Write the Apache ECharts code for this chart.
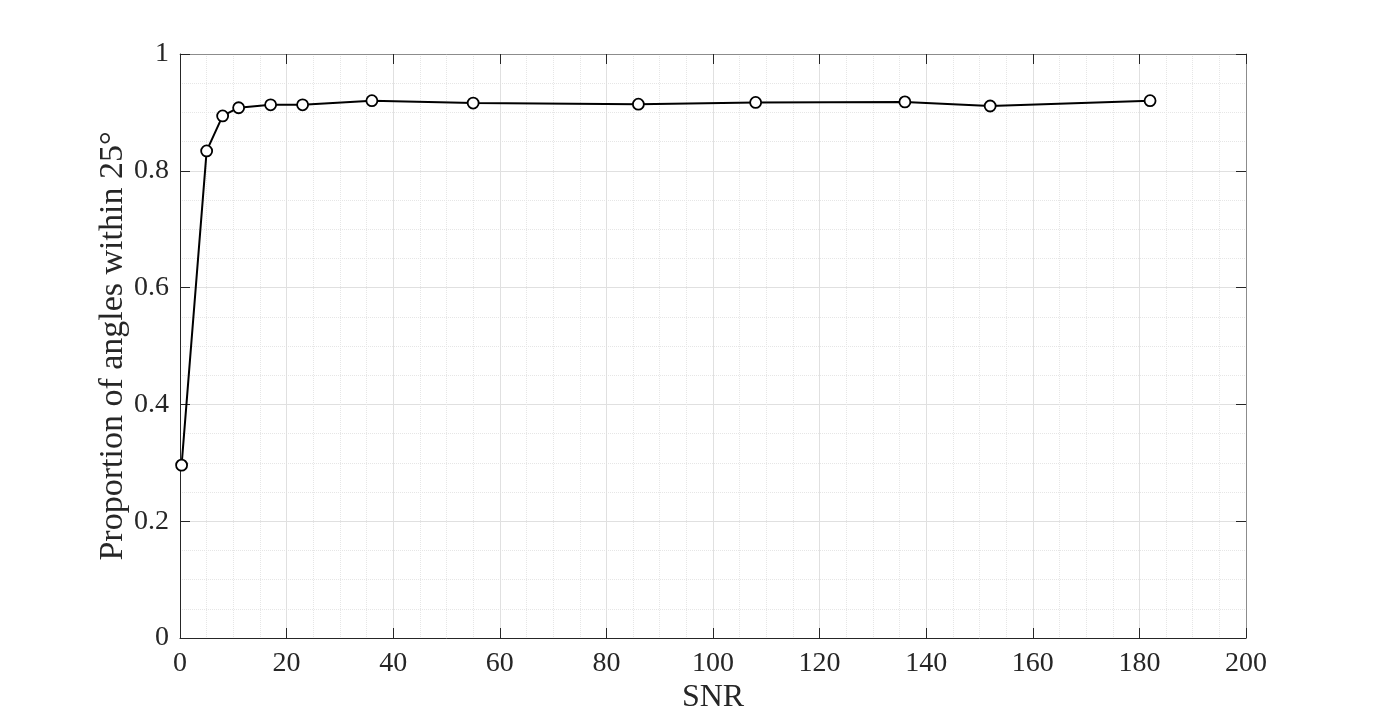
<!DOCTYPE html>
<html>
<head>
<meta charset="utf-8">
<script src="https://cdn.jsdelivr.net/npm/echarts@6/dist/echarts.min.js"></script>
<style>
  html, body { margin: 0; padding: 0; background: #fff; }
  #chart { width: 1377px; height: 720px; }
</style>
</head>
<body>
<div id="chart"></div>
<script>
  // SNR values and proportion of angles within 25 degrees
  var snr = [0.3, 5, 8, 11, 17, 23, 36, 55, 86, 108, 136, 152, 182]
  var proportion = [0.296, 0.834, 0.894, 0.908, 0.913, 0.913, 0.920, 0.916, 0.914, 0.917, 0.918, 0.911, 0.920]

  var xTitle = 'SNR'
  var yTitle = 'Proportion of angles within 25°'

  var font = '"Liberation Serif", "DejaVu Serif", serif'
  var axisDark = '#262626'
  var boxGray = '#8c8c8c'

  var points = snr.map(function (x, i) { return [x, proportion[i]] })

  var chart = echarts.init(document.getElementById('chart'))
  chart.setOption({
    backgroundColor: '#fff',
    animation: false,
    grid: {
      left: 180,
      top: 54,
      width: 1066,
      height: 584
    },
    xAxis: [{
      type: 'value',
      min: 0,
      max: 200,
      interval: 20,
      name: xTitle,
      nameLocation: 'middle',
      nameGap: 44,
      nameMoveOverlap: false,
      nameTextStyle: { fontFamily: font, fontSize: 32, color: axisDark },
      axisLine: { show: true, onZero: false, lineStyle: { color: axisDark, width: 1 } },
      axisTick: { show: true, inside: true, length: 10, lineStyle: { color: axisDark } },
      axisLabel: { fontFamily: font, fontSize: 28, color: axisDark, margin: 12 },
      splitLine: { show: true, lineStyle: { color: '#e0e0e0', width: 1 } },
      minorTick: { show: false, splitNumber: 4 },
      minorSplitLine: { show: true, lineStyle: { color: '#e6e6e6', type: 'dotted', width: 1 } }
    }, {
      type: 'value',
      position: 'top',
      min: 0,
      max: 200,
      interval: 20,
      axisLine: { show: true, onZero: false, lineStyle: { color: boxGray, width: 1 } },
      axisTick: { show: true, inside: true, length: 10, lineStyle: { color: axisDark } },
      axisLabel: { show: false },
      splitLine: { show: false }
    }],
    yAxis: [{
      type: 'value',
      min: 0,
      max: 1,
      interval: 0.2,
      name: yTitle,
      nameLocation: 'middle',
      nameGap: 50,
      nameMoveOverlap: false,
      nameTextStyle: { fontFamily: font, fontSize: 34, color: axisDark },
      axisLine: { show: true, onZero: false, lineStyle: { color: axisDark, width: 1 } },
      axisTick: { show: true, inside: true, length: 10, lineStyle: { color: axisDark } },
      axisLabel: { fontFamily: font, fontSize: 28, color: axisDark, margin: 11 },
      splitLine: { show: true, lineStyle: { color: '#e0e0e0', width: 1 } },
      minorTick: { show: false, splitNumber: 4 },
      minorSplitLine: { show: true, lineStyle: { color: '#e6e6e6', type: 'dotted', width: 1 } }
    }, {
      type: 'value',
      position: 'right',
      min: 0,
      max: 1,
      interval: 0.2,
      axisLine: { show: true, onZero: false, lineStyle: { color: boxGray, width: 1 } },
      axisTick: { show: true, inside: true, length: 10, lineStyle: { color: axisDark } },
      axisLabel: { show: false },
      splitLine: { show: false }
    }],
    series: [{
      type: 'line',
      data: points,
      symbol: 'circle',
      symbolSize: 11,
      showAllSymbol: true,
      lineStyle: { color: '#000', width: 2 },
      itemStyle: { color: '#fff', borderColor: '#000', borderWidth: 1.8 },
      z: 5
    }]
  })
</script>
</body>
</html>
